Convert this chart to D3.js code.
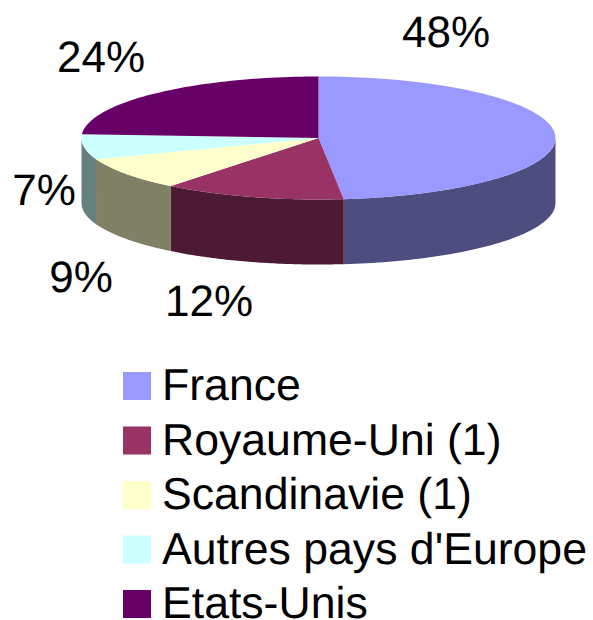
<!DOCTYPE html>
<html><head><meta charset="utf-8"><style>html,body{margin:0;padding:0;background:#fff}svg{display:block}text{text-rendering:geometricPrecision}</style>
<script src="https://cdn.jsdelivr.net/npm/d3@7/dist/d3.min.js"></script></head><body>
<svg id="c" width="593" height="620"></svg>
<script>
const categories=["France","Royaume-Uni (1)","Scandinavie (1)","Autres pays d'Europe","Etats-Unis"];
const values=[48.3,12.4,8.7,6.6,24];
const labels=["48%","12%","9%","7%","24%"];
const colors=["#9999ff","#993366","#ffffcc","#ccffff","#660066"];
const sideColors=["#4d4d80","#4d1a33","#808066","#668080","#330033"];
const labelX=[446,209,81,44,101];
const labelY=[47,316,292,205,72];
const svg=d3.select("#c");
const cx=318.5,cy=138,rx=237,ry=61.5,depth=65;
const pie=d3.pie().sort(null).value(d=>d)(values);
const X=a=>cx+rx*Math.sin(a),Y=a=>cy-ry*Math.cos(a);
const arcPts=(a0,a1,dy)=>d3.range(0,61).map(i=>{const a=a0+(a1-a0)*i/60;return [X(a),Y(a)+dy];});
const line=d3.line();
pie.forEach((p,i)=>{
  const a0=Math.max(p.startAngle,Math.PI/2),a1=Math.min(p.endAngle,Math.PI*1.5);
  if(a1>a0){
    const top=arcPts(a0,a1,0),bot=arcPts(a0,a1,depth).reverse();
    svg.append("path").attr("d",line(top.concat(bot))+"Z").attr("fill",sideColors[i]);
  }
});
pie.forEach((p,i)=>{
  svg.append("path").attr("d",line([[cx,cy],...arcPts(p.startAngle,p.endAngle,0)])+"Z").attr("fill",colors[i]);
});
const font="'Liberation Sans',Arial,sans-serif";
labels.forEach((t,i)=>{
  svg.append("text").attr("x",labelX[i]).attr("y",labelY[i]).attr("text-anchor","middle")
   .attr("font-family",font).attr("font-size",44).attr("fill","#000").text(t);
});
const ly=d3.scalePoint().domain(categories).range([386,604]);
categories.forEach((c,i)=>{
  svg.append("rect").attr("x",123).attr("y",ly(c)-14).attr("width",28).attr("height",28).attr("fill",colors[i]);
  svg.append("text").attr("x",162).attr("y",ly(c)+14).attr("font-family",font).attr("font-size",44.6).attr("fill","#000").text(c);
});
</script></body></html>
